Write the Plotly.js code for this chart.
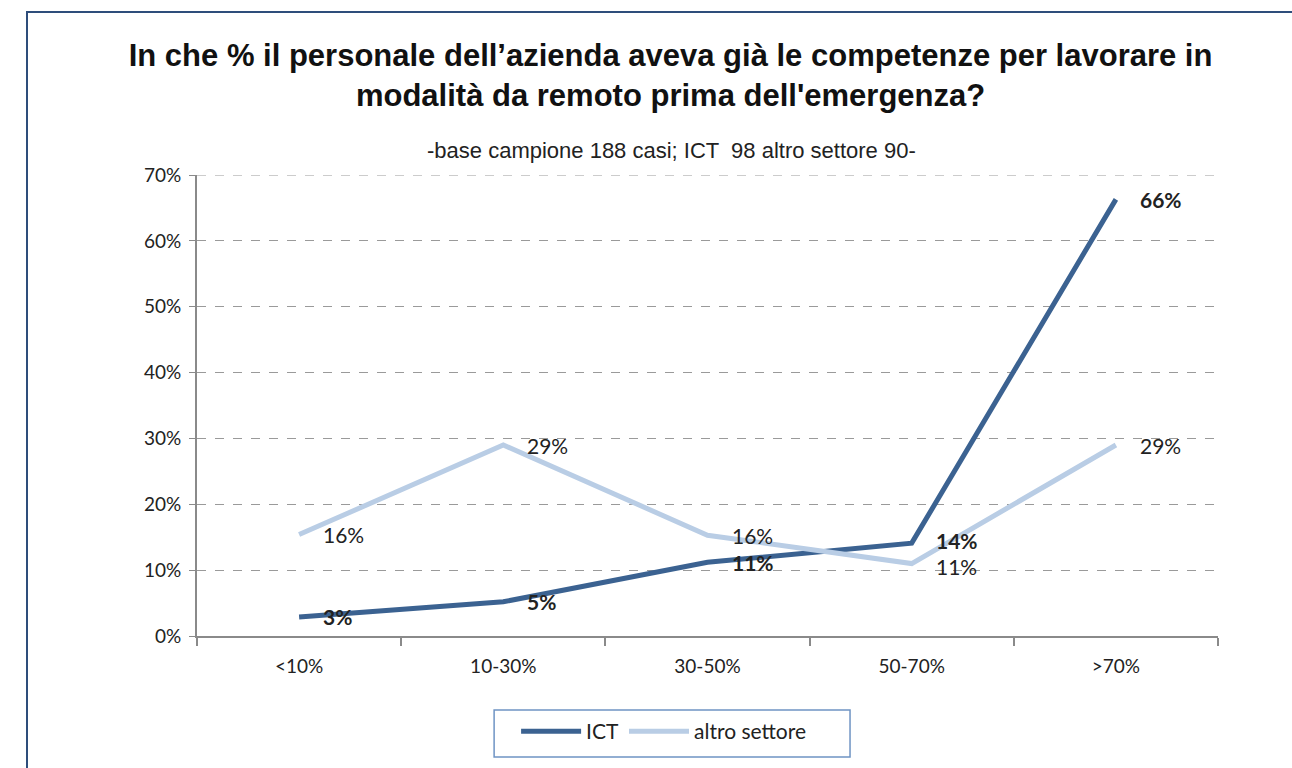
<!DOCTYPE html>
<html><head><meta charset="utf-8">
<script src="https://cdn.plot.ly/plotly-3.0.1.min.js"></script>
<style>
html,body{margin:0;padding:0;background:#fff;overflow:hidden;}
#chart{width:1292px;height:768px;position:absolute;left:0;top:0;}
#frame{position:absolute;left:26px;top:11px;width:1400px;height:900px;border-left:2px solid #2e4d7b;border-top:2px solid #2e4d7b;pointer-events:none;}
</style></head>
<body>
<div id="chart"></div>
<div id="frame"></div>
<script>
const categories = ["<10%", "10-30%", "30-50%", "50-70%", ">70%"];
const ictValues = [2.9, 5.2, 11.2, 14.1, 66.3];
const altroValues = [15.4, 29.0, 15.3, 11.0, 29.0];
const ictLabels = ["3%", "5%", "11%", "14%", "66%"];
const altroLabels = ["16%", "29%", "16%", "11%", "29%"];
const yTicks = [0, 10, 20, 30, 40, 50, 60, 70];
const yTickText = yTicks.map(v => v + "%");

const ictColor = "#3b6291";
const altroColor = "#b9cde5";
const titleFont = "Liberation Sans, Arial, sans-serif";
const bodyFont = "Lato, Liberation Sans, sans-serif";

const traces = [
  {x: categories, y: ictValues, name: "ICT", type: "scatter", mode: "lines",
   line: {color: ictColor, width: 5}},
  {x: categories, y: altroValues, name: "altro settore", type: "scatter", mode: "lines",
   line: {color: altroColor, width: 5}}
];

const annotations = [];
categories.forEach((c, i) => {
  const close = Math.abs(ictValues[i] - altroValues[i]) < 4;
  const altroAbove = altroValues[i] > ictValues[i];
  const sep = close ? 3 : 0;
  annotations.push({x: c, y: altroValues[i], text: altroLabels[i], showarrow: false,
    xanchor: "left", yanchor: "middle", xshift: 22, yshift: altroAbove ? sep : -sep,
    font: {family: bodyFont, size: 21, color: "#222"}});
  annotations.push({x: c, y: ictValues[i], text: "<b>" + ictLabels[i] + "</b>", showarrow: false,
    xanchor: "left", yanchor: "middle", xshift: 22, yshift: altroAbove ? -sep : sep,
    font: {family: bodyFont, size: 21, color: "#222"}});
});
annotations.push({xref: "paper", yref: "paper", x: 0.465, y: 1.053, xanchor: "center", yanchor: "middle",
  text: "-base campione 188 casi; ICT  98 altro settore 90-", showarrow: false,
  font: {family: titleFont, size: 22, color: "#222"}});

const layout = {
  width: 1292, height: 768,
  paper_bgcolor: "rgba(0,0,0,0)", plot_bgcolor: "#fff",
  margin: {l: 197, r: 74, t: 175, b: 132},
  title: {text: "<b>In che % il personale dell\u2019azienda aveva già le competenze per lavorare in<br>modalità da remoto prima dell'emergenza?</b>",
    x: 0.519, xanchor: "center", y: 0.914, yanchor: "middle",
    font: {family: titleFont, size: 31, color: "#111"}},
  showlegend: true,
  legend: {orientation: "h", x: 0.457, xanchor: "center", y: -0.163, yanchor: "top",
    borderwidth: 0, bgcolor: "rgba(0,0,0,0)", itemwidth: 60,
    font: {family: bodyFont, size: 21, color: "#222"}},
  xaxis: {type: "category", range: [-0.5, 4.5], showgrid: false, showline: true,
    linecolor: "#8a8a8a", linewidth: 2, ticks: "outside", tickson: "boundaries",
    ticklen: 8, tickcolor: "#8a8a8a", tickwidth: 2, ticklabelstandoff: 12,
    tickfont: {family: bodyFont, size: 19, color: "#222"}, fixedrange: true},
  yaxis: {range: [0, 70], tickmode: "array", tickvals: yTicks, ticktext: yTickText, showgrid: true,
    gridcolor: "#9a9a9a", griddash: "dash", gridwidth: 1, zeroline: false,
    showline: true, linecolor: "#8a8a8a", linewidth: 2, ticks: "outside", ticklen: 6,
    tickcolor: "#8a8a8a", tickwidth: 1, ticklabelstandoff: 4,
    tickfont: {family: bodyFont, size: 19, color: "#222"}, fixedrange: true},
  shapes: [
    {type: "line", xref: "paper", yref: "y", x0: 0, x1: 1, y0: yTicks[yTicks.length - 1], y1: yTicks[yTicks.length - 1],
     line: {color: "#9a9a9a", width: 1, dash: "dash"}, layer: "below"},
    {type: "rect", xref: "paper", yref: "paper", x0: 0.291, x1: 0.6396, y0: -0.2625, y1: -0.1605,
     line: {color: "#6f94c4", width: 1.5}, fillcolor: "rgba(0,0,0,0)", layer: "above"}
  ],
  annotations: annotations
};

Plotly.newPlot("chart", traces, layout, {displayModeBar: false, staticPlot: true});
</script>
</body></html>
